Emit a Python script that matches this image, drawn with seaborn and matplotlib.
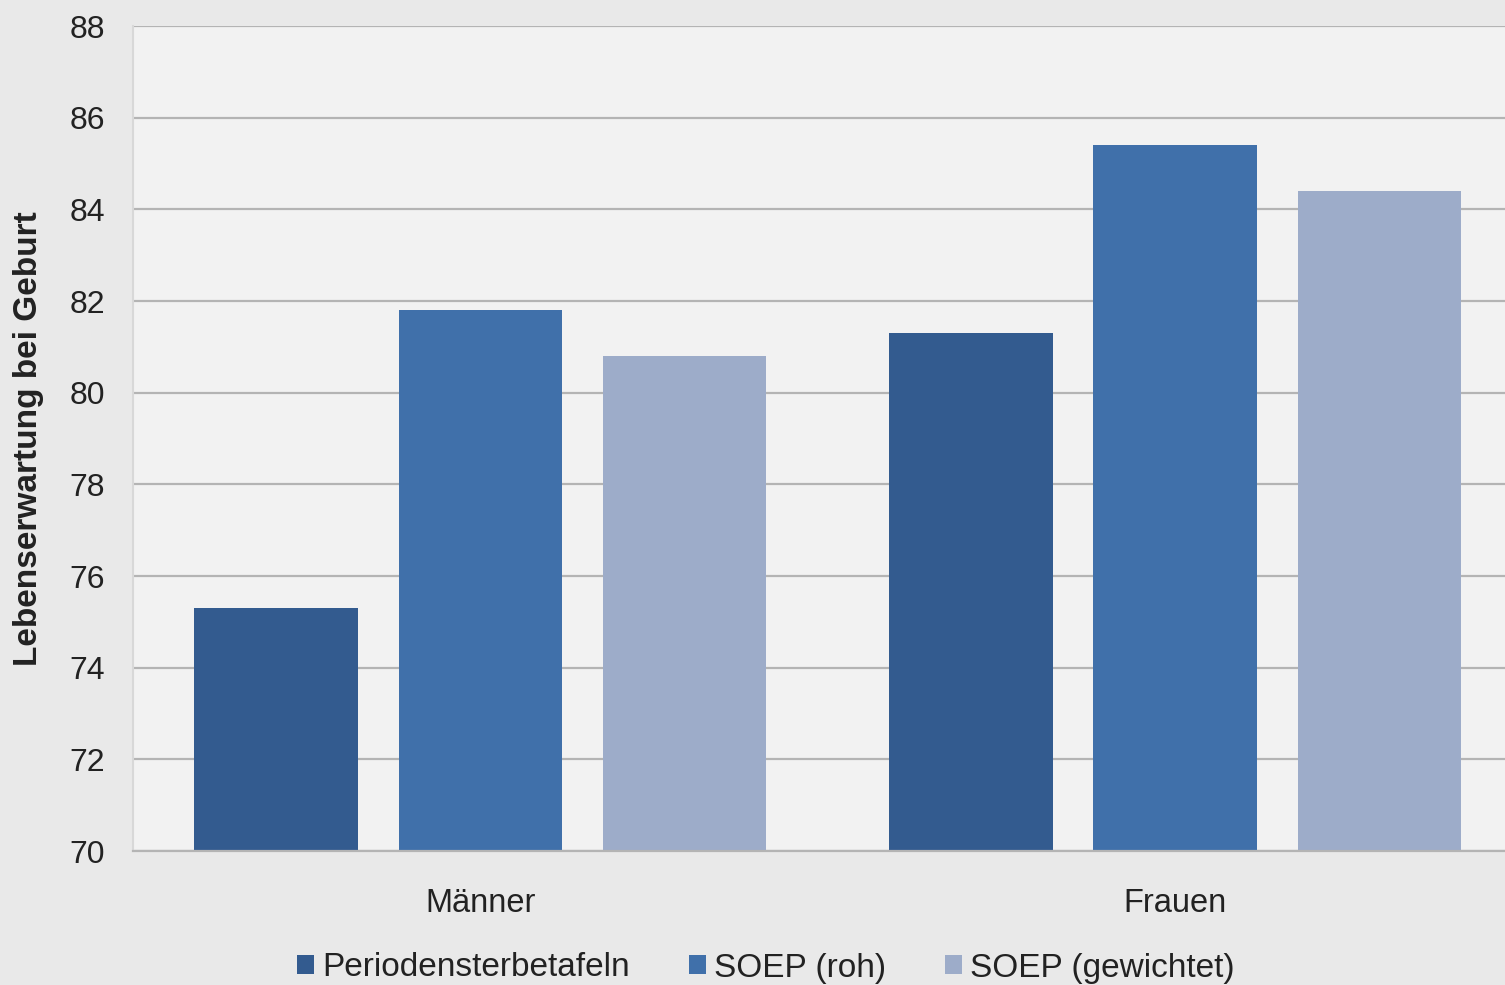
import matplotlib
matplotlib.use("Agg")
import matplotlib.pyplot as plt
import seaborn as sns
import pandas as pd

categories = ["Männer", "Frauen"]
series = ["Periodensterbetafeln", "SOEP (roh)", "SOEP (gewichtet)"]
periodensterbetafeln = [75.3, 81.3]
soep_roh = [81.8, 85.4]
soep_gewichtet = [80.8, 84.4]
yticks = [70, 72, 74, 76, 78, 80, 82, 84, 86, 88]
colors = ["#335b8f", "#4070aa", "#9dacc9"]

rows = []
for s, vals in zip(series, [periodensterbetafeln, soep_roh, soep_gewichtet]):
    for c, v in zip(categories, vals):
        rows.append({"Kategorie": c, "Serie": s, "Wert": v})
df = pd.DataFrame(rows)

sns.set_theme(style="white")
plt.rcParams['font.family'] = ['Liberation Sans', 'DejaVu Sans']

fig = plt.figure(figsize=(15.05, 9.85), dpi=100, facecolor="#e9e9e9")
ax = fig.add_axes([133 / 1505, 1 - 851 / 985, (1522.5 - 133) / 1505, (851 - 26) / 985])
ax.set_facecolor("#f2f2f2")

sns.barplot(data=df, x="Kategorie", y="Wert", hue="Serie", order=categories,
            hue_order=series, palette=colors, width=0.882, gap=0.2,
            saturation=1, linewidth=0, ax=ax, legend=True)

ax.set_ylim(70, 88)
ax.set_xlim(-0.5, 1.5)
ax.set_yticks(yticks)
ax.set_yticklabels([str(t) for t in yticks], fontsize=23, color="#222222")
ax.yaxis.grid(True, color="#b4b4b4", linewidth=1.6)
ax.set_axisbelow(True)
ax.tick_params(axis="y", length=0, pad=20)
ax.tick_params(axis="x", length=0, pad=27, labelsize=23.5, labelcolor="#222222")
ax.set_xlabel("")
ax.set_ylabel("Lebenserwartung bei Geburt", fontsize=24, fontweight="bold",
              color="#222222")
ax.yaxis.set_label_coords((44 - 133) / 1389.5, 0.5)
for side in ["top", "right"]:
    ax.spines[side].set_visible(False)
ax.spines["left"].set_color("#d8d8d8")
ax.spines["left"].set_linewidth(1.5)
ax.spines["bottom"].set_color("#b4b4b4")
ax.spines["bottom"].set_linewidth(1.6)

handles, labels = ax.get_legend_handles_labels()
ax.legend_.remove()
fig.legend(handles, labels, loc="center", bbox_to_anchor=(766 / 1505, 1 - 968 / 985),
           ncol=3, frameon=False, fontsize=24, handlelength=0.52, handleheight=0.52,
           handletextpad=0.25, columnspacing=1.75, labelcolor="#222222")

fig.savefig("out.png", dpi=100, facecolor=fig.get_facecolor())
